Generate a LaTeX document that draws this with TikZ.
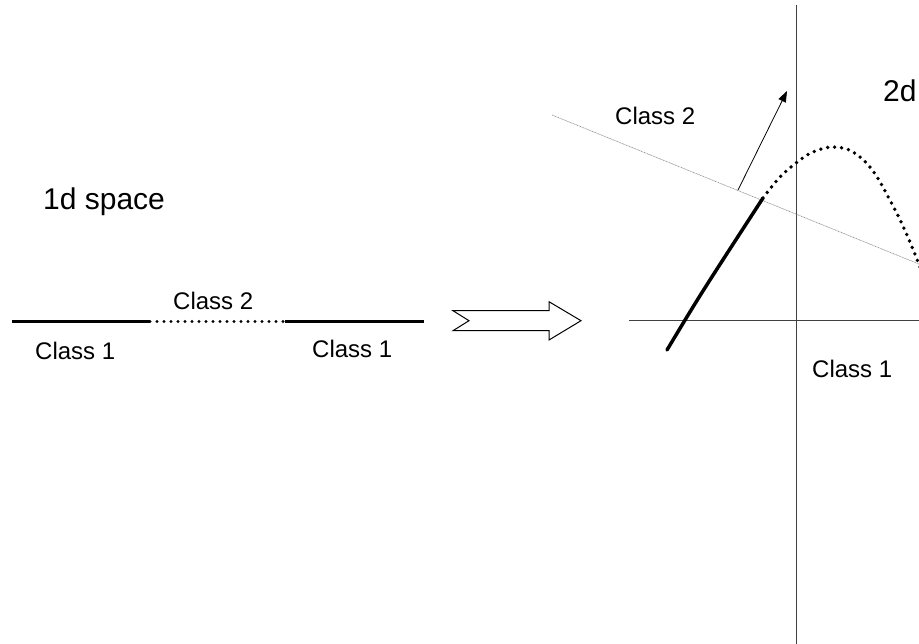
\documentclass[tikz,border=0pt]{standalone}
\usepackage{fontspec}
\setmainfont{Liberation Sans}
\usetikzlibrary{arrows.meta}
\tikzset{
  lbl/.style={anchor=base west, inner sep=0pt, font=\fontsize{24}{28}\selectfont},
  big/.style={anchor=base west, inner sep=0pt, font=\fontsize{30}{34}\selectfont},
  thickline/.style={line width=3pt},
  dotline/.style={line width=3.4pt, line cap=round, dash pattern=on 0pt off 7pt},
  axis/.style={line width=1pt, draw=black!75},
  boundary/.style={line width=0.6pt, draw=black!45, dash pattern=on 1pt off 0.6pt},
  hollow/.style={draw=black, line width=1pt, fill=white, line join=miter},
}
\begin{document}
\begin{tikzpicture}[x=1pt,y=-1pt]
\useasboundingbox (0,0) rectangle (919,644);
\clip (0,0) rectangle (919,644);
% texts
\node[big] (t1d) at (43,210) {1d space};
\node[big] (t2d) at (883,102) {2d};
\node[lbl] (c2a) at (173,310) {Class 2};
\node[lbl] (c1a) at (35,360) {Class 1};
\node[lbl] (c1b) at (312,358) {Class 1};
\node[lbl] (c2b) at (615,125) {Class 2};
\node[lbl] (c1c) at (812,378) {Class 1};
% 1d line
\coordinate (l0) at (12,321.5);
\coordinate (l1) at (150,321.5);
\coordinate (l2) at (285,321.5);
\coordinate (l3) at (424,321.5);
\draw[thickline] (l0) -- (l1);
\draw[dotline] (l1) -- (l2);
\draw[thickline] (l2) -- (l3);
% hollow arrow
\draw[hollow] (453,310.7) -- (549,310.7) -- (549,301.7) -- (581,320.7) -- (549,340) -- (549,330.7) -- (453,330.7) -- (469,320.7) -- cycle;
% axes
\coordinate (vt) at (796,5);
\coordinate (vb) at (796,650);
\coordinate (hl) at (629,321);
\coordinate (hr) at (925,321);
\draw[axis] (vt) -- (vb);
\draw[axis] (hl) -- (hr);
% separating line
\coordinate (s0) at (552,115);
\coordinate (s1) at (925,266.5);
\draw[boundary] (s0) -- (s1);
% normal arrow
\coordinate (n0) at (738,190);
\coordinate (n1) at (787,91);
\draw[line width=0.8pt, -{Triangle[length=11pt,width=8pt]}] (n0) -- (n1);
% curve
\coordinate (k0) at (667,350);
\coordinate (k1) at (763,198);
\draw[thickline, line width=3.5pt, line cap=round] (k0) .. controls (700,295) .. (k1);
\draw[dotline, line width=3.8pt] plot[smooth, tension=0.6] coordinates {(763,198) (779,178) (796,163) (813,152) (833,147) (853,152) (873,171) (893,206) (907,235) (922,272)};
\end{tikzpicture}
\end{document}
